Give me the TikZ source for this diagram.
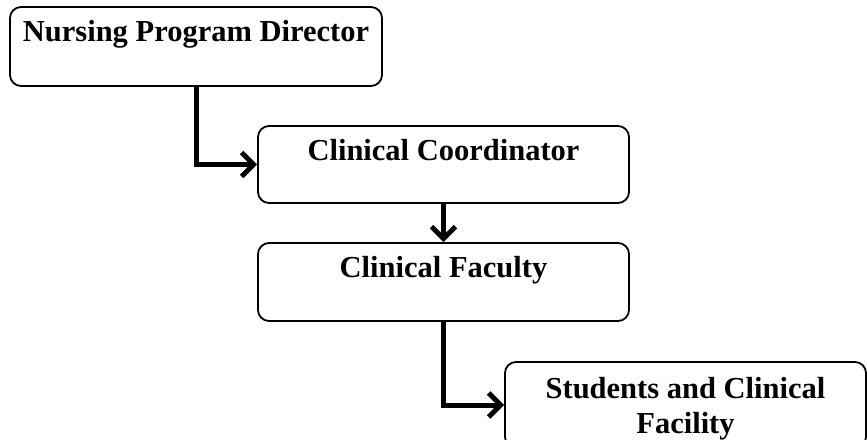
\documentclass[tikz,border=0pt]{standalone}
\usepackage{fontspec}
\setmainfont{Liberation Serif}
\usetikzlibrary{arrows.meta}
\begin{document}
\begin{tikzpicture}[x=1pt,y=-1pt,
  box/.style={draw, line width=1.8pt, rounded corners=11pt, inner sep=0pt},
  lbl/.style={font=\bfseries\fontsize{30.5}{35}\selectfont, align=center, inner sep=0pt},
  conn/.style={line width=5pt, -{Straight Barb[length=12pt,width=24pt]}}]
\useasboundingbox (0,0) rectangle (867,439);
\node[box, minimum width=372pt, minimum height=79pt] (b1) at (196,46.5) {};
\node[box, minimum width=371pt, minimum height=77pt] (b2) at (443.5,164.5) {};
\node[box, minimum width=371pt, minimum height=78pt] (b3) at (443.5,282) {};
\node[box, minimum width=361pt, minimum height=86pt] (b4) at (685.5,405) {};
\node[lbl, anchor=base] (t1) at (196,41) {Nursing Program Director};
\node[lbl, anchor=base] (t2) at (443.5,160) {Clinical Coordinator};
\node[lbl, anchor=base] (t3) at (443.5,277) {Clinical Faculty};
\node[lbl, anchor=base] (t4) at (685.5,433) {Students and Clinical\\Facility};
\draw[conn] (b1.south) |- (b2.west);
\draw[conn] (b2.south) -- (b3.north);
\draw[conn] (b3.south) |- (b4.west);
\end{tikzpicture}
\end{document}
